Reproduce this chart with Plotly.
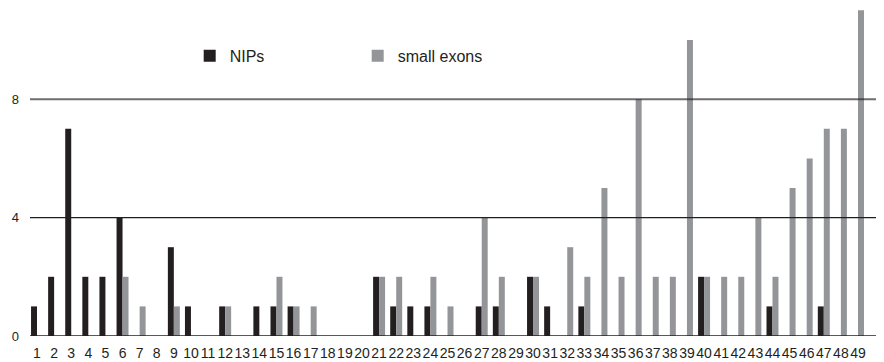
import plotly.graph_objects as go

categories = list(range(1, 50))
nips = [1, 2, 7, 2, 2, 4, 0, 0, 3, 1,
        0, 1, 0, 1, 1, 1, 0, 0, 0, 0,
        2, 1, 1, 1, 0, 0, 1, 1, 0, 2,
        1, 0, 1, 0, 0, 0, 0, 0, 0, 2,
        0, 0, 0, 1, 0, 0, 1, 0, 0]
small_exons = [0, 0, 0, 0, 0, 2, 1, 0, 1, 0,
               0, 1, 0, 0, 2, 1, 1, 0, 0, 0,
               2, 2, 0, 2, 1, 0, 4, 2, 0, 2,
               0, 3, 2, 5, 2, 8, 2, 2, 10, 2,
               2, 2, 4, 2, 5, 6, 7, 7, 11]
y_ticks = [0, 4, 8]

BLACK = "#231f20"
GRAY = "#939598"

fig = go.Figure()
fig.add_bar(x=categories, y=nips, name="NIPs",
            marker=dict(color=BLACK, line=dict(width=0)))
fig.add_bar(x=categories, y=small_exons, name="small exons",
            marker=dict(color=GRAY, line=dict(width=0)))

# page body has an 8px default margin; figure sized to fit the window
fig.update_layout(
    width=876, height=354,
    margin=dict(l=22, r=0, t=0, b=26),
    barmode="group", bargap=0.3, bargroupgap=0,
    plot_bgcolor="white", paper_bgcolor="white",
    font=dict(family="Liberation Sans, Arial, sans-serif", size=13, color=BLACK),
    showlegend=True,
    legend=dict(orientation="h", x=0.187, xanchor="left", y=0.854, yanchor="middle",
                entrywidth=123, entrywidthmode="pixels",
                font=dict(size=16, color=BLACK), bgcolor="rgba(0,0,0,0)",
                traceorder="normal"),
)
fig.update_xaxes(range=[0.59, 50.52], tickmode="array", tickvals=categories,
                 ticktext=[str(c) for c in categories], tickangle=0,
                 showgrid=False, zeroline=False, showline=False, ticks="",
                 ticklabelstandoff=7, tickfont=dict(size=14))
fig.update_yaxes(range=[0, 11.08], tickmode="array", tickvals=y_ticks,
                 ticktext=[str(v) for v in y_ticks],
                 showgrid=False, zeroline=False, showline=False, ticks="",
                 ticklabelstandoff=10, tickfont=dict(size=13))

fig.add_shape(type="line", xref="paper", yref="y", x0=0, x1=1, y0=y_ticks[2], y1=y_ticks[2],
              line=dict(color="rgba(35,31,32,0.65)", width=2), layer="above")
fig.add_shape(type="line", xref="paper", yref="y", x0=0, x1=1, y0=y_ticks[1], y1=y_ticks[1],
              line=dict(color=BLACK, width=1.2), layer="above")
fig.add_shape(type="line", xref="paper", yref="y", x0=0, x1=1, y0=y_ticks[0], y1=y_ticks[0],
              line=dict(color=BLACK, width=1.5), layer="above")

fig.write_html("out.html")
